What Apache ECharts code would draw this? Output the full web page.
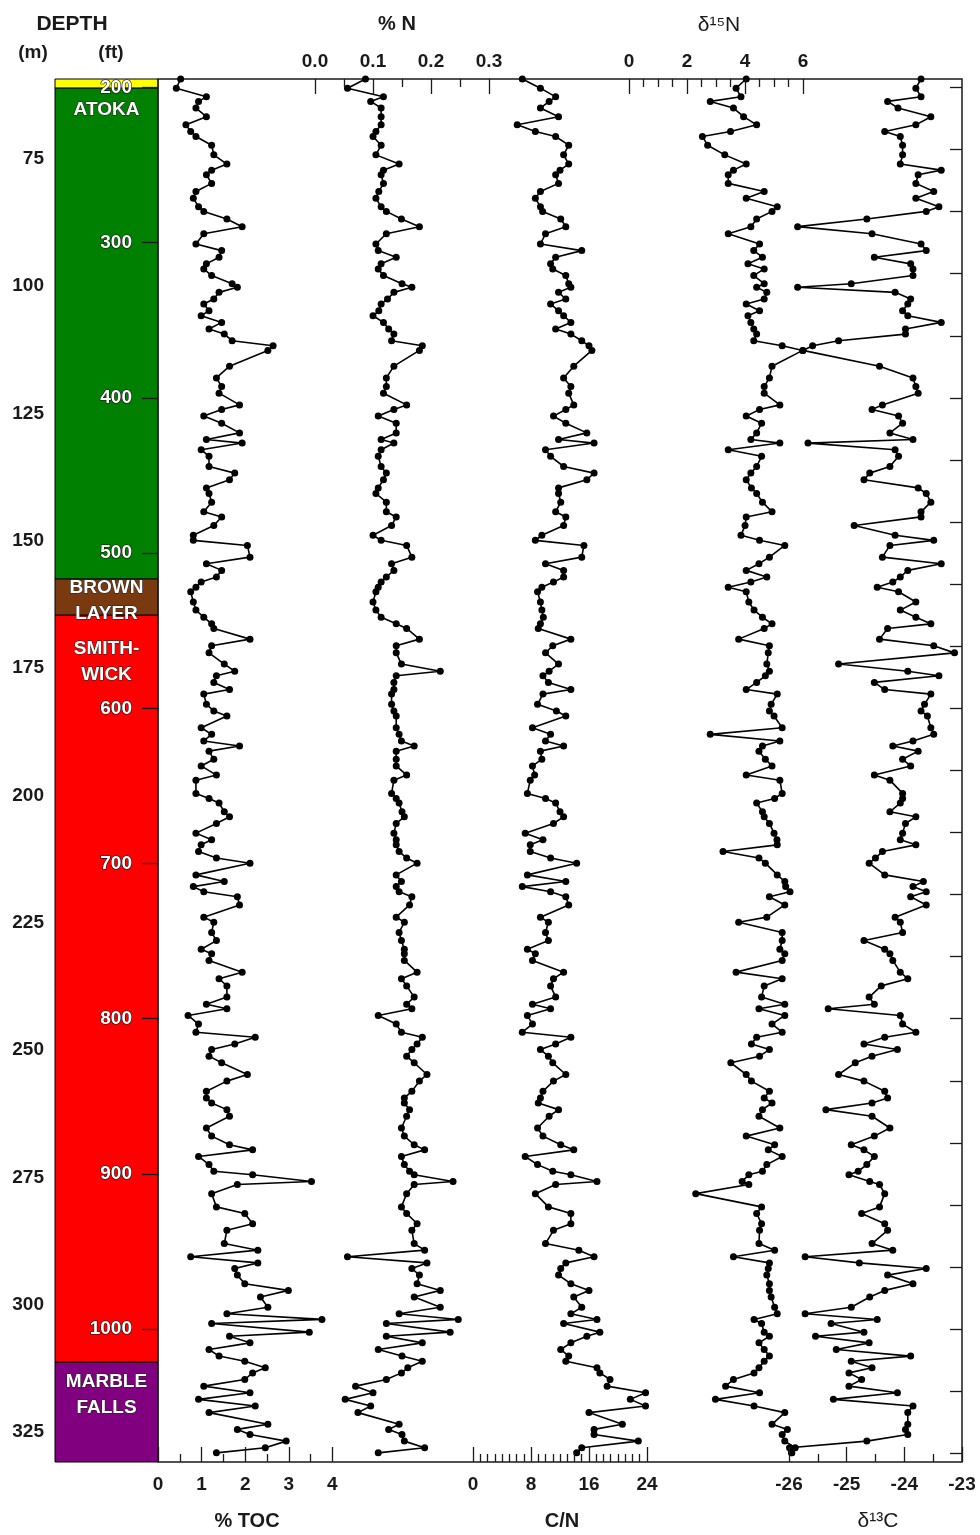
<!DOCTYPE html>
<html>
<head>
<meta charset="utf-8">
<script src="https://cdn.jsdelivr.net/npm/echarts@6/dist/echarts.min.js"></script>
<style>
  html, body { margin: 0; padding: 0; background: #fff; }
  #chart { width: 980px; height: 1535px; }
</style>
</head>
<body>
<div id="chart"></div>
<script>
// sample depths (m) shared by all five tracks
const depth = [
  59.3, 61.1, 62.8, 63.7, 65.0, 66.7, 68.3, 69.6, 70.6, 72.3, 74.2, 76.0, 77.2, 78.1, 79.8, 81.4, 82.7, 84.4, 85.3,
  86.8, 88.3, 89.7, 91.7, 93.0, 94.3, 95.6, 96.6, 97.9, 99.5, 100.2, 101.2, 102.5, 103.5, 104.8, 105.8, 107.1, 108.4, 109.4, 110.7, 111.7, 112.6,
  115.7, 118.0, 119.7, 121.0, 123.3, 124.2, 125.5, 126.9, 128.8, 130.1, 130.8, 132.1, 133.4, 135.4, 136.7, 138.0, 139.6,
  140.7, 142.4, 144.3, 145.3, 147.0, 148.9, 149.9, 150.9, 153.2, 154.5, 155.8, 157.1, 158.1, 159.1, 160.0, 162.0, 163.6, 165.0, 166.3, 167.2,
  169.3, 170.6, 172.0, 174.2, 175.6, 176.5, 177.8, 179.2, 180.1, 182.1, 183.4, 184.4, 186.7, 188.0, 189.3, 190.3, 191.3, 192.9, 194.2,
  196.0, 197.0, 199.6, 200.6, 201.5, 203.2, 204.2, 205.5, 207.4, 208.7, 209.7, 211.0, 212.3, 213.3, 215.6, 216.9, 217.9, 218.9, 219.9, 221.5,
  223.9, 224.9, 226.9, 228.5, 230.2, 231.1, 232.4, 234.7, 236.0, 237.4, 239.6, 241.0, 241.9, 243.2, 244.9, 246.5, 247.5, 248.8,
  249.9, 251.2, 252.5, 254.8, 256.1, 258.1, 259.4, 260.4, 261.7, 263.0, 265.3, 266.9, 268.6, 269.6, 270.9, 272.5, 273.8, 274.5, 275.8, 276.4,
  278.2, 280.8, 282.1, 284.1, 285.4, 288.0, 289.3, 290.6, 291.8, 292.9, 294.2, 295.9, 297.2, 298.5, 300.5, 301.8, 302.9, 303.7,
  305.4, 306.2, 307.5, 308.8, 310.1, 311.1, 312.4, 313.4, 314.7, 316.0, 317.3, 318.6, 319.9, 321.2, 323.5, 324.5, 325.5, 326.8, 328.1, 329.1
];

// % TOC
const toc = [
  0.52, 0.42, 1.11, 0.93, 0.87, 1.11, 0.64, 0.75, 0.87, 1.23, 1.28, 1.58, 1.23, 1.11, 1.23, 0.87, 0.81, 0.93, 1.05,
  1.58, 1.93, 1.05, 0.87, 1.46, 1.40, 1.11, 1.05, 1.23, 1.70, 1.82, 1.40, 1.28, 1.05, 1.17, 0.99, 1.46, 1.17, 1.52, 1.70, 2.64, 2.52,
  1.64, 1.34, 1.46, 1.40, 1.87, 1.46, 1.05, 1.46, 1.87, 1.11, 1.93, 0.99, 1.17, 1.17, 1.76, 1.64, 1.11,
  1.17, 1.23, 1.05, 1.46, 1.28, 0.81, 0.81, 2.05, 2.11, 1.11, 1.46, 1.34, 0.99, 0.87, 0.75, 0.81, 0.87, 1.05, 1.23, 1.28,
  2.11, 1.23, 1.17, 1.52, 1.76, 1.34, 1.28, 1.64, 1.05, 1.11, 1.28, 1.58, 0.99, 1.23, 1.05, 1.87, 1.17, 1.28, 0.99,
  1.34, 0.87, 0.87, 1.17, 1.40, 1.52, 1.64, 1.34, 0.87, 1.23, 0.99, 0.93, 1.34, 2.11, 0.87, 1.52, 0.81, 1.05, 1.82, 1.87,
  1.05, 1.28, 1.23, 1.34, 0.99, 1.23, 1.17, 1.93, 1.40, 1.58, 1.58, 1.11, 1.58, 0.69, 0.93, 0.87, 2.23, 1.76,
  1.23, 1.17, 1.46, 2.05, 1.58, 1.11, 1.11, 1.23, 1.58, 1.64, 1.11, 1.23, 1.64, 2.17, 0.93, 1.17, 1.28, 2.17, 3.52, 1.82,
  1.23, 1.34, 1.99, 2.17, 1.58, 1.52, 2.29, 0.75, 2.29, 1.76, 1.82, 1.99, 2.99, 2.35, 2.52, 1.58, 3.76, 1.23,
  3.47, 1.64, 2.11, 1.17, 1.40, 1.99, 2.46, 2.17, 1.99, 1.05, 2.11, 0.93, 2.23, 1.17, 2.52, 1.82, 2.11, 2.94, 2.46, 1.34
];

// % N
const nitrogen = [
  0.087, 0.056, 0.118, 0.096, 0.114, 0.114, 0.114, 0.105, 0.100, 0.114, 0.105, 0.145, 0.118, 0.114, 0.118, 0.110, 0.105, 0.114, 0.123,
  0.149, 0.180, 0.123, 0.105, 0.109, 0.140, 0.114, 0.109, 0.118, 0.150, 0.167, 0.136, 0.125, 0.114, 0.110, 0.100, 0.118, 0.127, 0.136, 0.132, 0.185, 0.180,
  0.136, 0.123, 0.123, 0.118, 0.158, 0.136, 0.109, 0.140, 0.140, 0.114, 0.136, 0.114, 0.109, 0.114, 0.123, 0.118, 0.109,
  0.105, 0.123, 0.123, 0.140, 0.132, 0.100, 0.114, 0.158, 0.167, 0.132, 0.136, 0.123, 0.114, 0.109, 0.105, 0.100, 0.105, 0.114, 0.140, 0.158,
  0.180, 0.140, 0.140, 0.149, 0.216, 0.140, 0.136, 0.136, 0.132, 0.132, 0.136, 0.140, 0.140, 0.145, 0.149, 0.171, 0.140, 0.140, 0.140,
  0.158, 0.136, 0.132, 0.140, 0.145, 0.150, 0.154, 0.140, 0.136, 0.140, 0.140, 0.145, 0.158, 0.176, 0.140, 0.149, 0.140, 0.145, 0.167, 0.163,
  0.140, 0.154, 0.145, 0.149, 0.154, 0.154, 0.154, 0.176, 0.149, 0.158, 0.171, 0.158, 0.167, 0.109, 0.140, 0.149, 0.185, 0.176,
  0.167, 0.158, 0.171, 0.193, 0.180, 0.167, 0.154, 0.154, 0.163, 0.158, 0.149, 0.154, 0.171, 0.189, 0.149, 0.154, 0.163, 0.171, 0.238, 0.171,
  0.158, 0.149, 0.158, 0.176, 0.167, 0.171, 0.189, 0.056, 0.193, 0.167, 0.180, 0.176, 0.216, 0.171, 0.216, 0.145, 0.247, 0.123,
  0.233, 0.123, 0.185, 0.109, 0.150, 0.185, 0.160, 0.149, 0.123, 0.070, 0.100, 0.052, 0.096, 0.074, 0.145, 0.127, 0.150, 0.154, 0.189, 0.109
];

// C/N
const cn = [
  6.8, 9.3, 11.4, 10.5, 9.3, 11.8, 6.1, 8.6, 11.4, 13.2, 12.5, 13.2, 12.0, 11.4, 11.8, 9.3, 8.6, 9.3, 9.6,
  12.1, 12.8, 10.0, 9.3, 15.0, 11.4, 10.7, 11.0, 12.8, 13.2, 13.5, 11.8, 12.8, 10.7, 11.8, 12.5, 13.5, 11.4, 13.5, 15.0, 16.0, 16.4,
  13.9, 12.5, 13.5, 13.2, 13.9, 12.8, 11.1, 12.8, 15.7, 11.8, 16.7, 10.0, 10.7, 12.5, 16.7, 15.7, 11.8,
  11.8, 12.1, 11.4, 12.8, 12.5, 9.5, 8.6, 15.3, 15.0, 10.0, 12.5, 12.5, 11.1, 9.5, 8.9, 9.3, 9.5, 9.7, 9.3, 9.0,
  13.5, 11.0, 10.0, 11.8, 10.5, 9.65, 10.4, 13.5, 9.65, 8.9, 11.5, 12.8, 8.2, 10.7, 10.0, 12.5, 9.3, 9.5, 8.2,
  8.5, 7.9, 7.5, 10.0, 11.4, 12.0, 12.5, 11.1, 7.2, 9.65, 7.9, 7.9, 10.7, 14.3, 7.5, 12.8, 6.8, 10.7, 12.8, 13.2,
  9.3, 10.4, 10.0, 10.4, 7.5, 8.6, 8.2, 12.5, 11.1, 10.7, 11.4, 8.2, 10.7, 7.5, 8.2, 6.8, 13.5, 11.4,
  9.3, 10.4, 11.0, 12.8, 11.1, 9.65, 9.3, 9.0, 11.8, 10.5, 8.9, 9.65, 12.1, 13.9, 7.2, 8.9, 11.0, 13.5, 17.1, 11.4,
  8.6, 10.4, 13.5, 13.5, 11.1, 10.0, 14.6, 16.7, 12.8, 12.1, 11.8, 13.5, 16.0, 13.9, 15.0, 13.5, 17.1, 12.5,
  17.5, 15.7, 13.5, 12.1, 13.2, 12.8, 17.1, 17.5, 18.9, 18.5, 23.8, 21.7, 23.8, 16.0, 20.6, 16.7, 16.7, 22.8, 15.0, 14.3
];

// delta 15N (permil)
const d15n = [
  4.04, 3.69, 3.86, 2.8, 3.6, 3.95, 4.4, 3.5, 2.53, 2.71, 3.3, 4.04, 3.6, 3.42, 3.42, 4.66, 4.04, 5.11, 4.93,
  4.4, 4.2, 3.42, 4.5, 4.3, 4.6, 4.1, 4.66, 4.3, 4.66, 4.4, 4.75, 4.66, 4.04, 4.5, 4.1, 4.2, 4.3, 4.4, 4.3, 5.28, 5.99,
  4.93, 4.84, 4.66, 4.66, 5.2, 4.5, 4.04, 4.57, 4.4, 4.2, 5.2, 3.42, 4.57, 4.4, 4.2, 4.04, 4.22,
  4.4, 4.6, 4.93, 4.04, 4.0, 3.86, 4.5, 5.37, 4.84, 4.48, 4.04, 4.75, 4.2, 3.42, 4.04, 4.13, 4.31, 4.6, 4.93, 4.66,
  3.78, 4.84, 4.8, 4.75, 4.84, 4.7, 4.4, 4.04, 5.11, 4.9, 4.84, 5.0, 5.28, 2.8, 5.2, 4.6, 4.48, 4.7, 4.93,
  4.04, 5.2, 5.28, 5.02, 4.4, 4.6, 4.66, 4.84, 5.0, 5.1, 5.11, 3.24, 4.48, 4.7, 5.11, 5.37, 5.4, 5.55, 4.84, 5.37,
  4.75, 3.78, 5.28, 5.28, 5.2, 5.37, 5.28, 3.69, 5.28, 4.66, 4.57, 5.37, 4.48, 5.37, 4.93, 5.28, 4.4, 4.22,
  4.84, 4.5, 3.51, 4.04, 4.22, 4.84, 4.66, 4.93, 4.6, 4.48, 5.2, 4.04, 5.02, 4.8, 5.28, 4.75, 4.6, 4.13, 3.9, 4.13,
  2.3, 4.57, 4.4, 4.57, 4.5, 4.48, 5.02, 3.6, 4.84, 4.8, 4.75, 4.84, 4.84, 4.9, 5.02, 5.11, 4.31, 4.57,
  4.66, 4.84, 4.48, 4.66, 4.84, 4.66, 4.48, 4.31, 3.6, 3.33, 4.5, 2.98, 4.31, 5.37, 4.93, 5.46, 5.28, 5.37, 5.73, 5.6
];

// delta 13C (permil)
const d13c = [
  -23.71, -23.80, -23.71, -24.29, -24.11, -23.54, -23.80, -24.34, -24.07, -24.03, -24.03, -24.07, -23.36, -23.76, -23.80, -23.49, -23.80, -23.40, -23.62,
  -24.65, -25.85, -24.56, -23.71, -23.62, -24.52, -23.89, -23.85, -23.85, -24.92, -25.85, -24.16, -23.89, -23.94, -24.03, -23.94, -23.36, -23.98, -23.98, -25.14, -25.59, -25.76,
  -24.43, -23.85, -23.80, -23.76, -24.38, -24.56, -24.10, -24.03, -24.25, -23.85, -25.67, -24.16, -24.10, -24.25, -24.6, -24.70, -23.76,
  -23.62, -23.54, -23.71, -23.71, -24.87, -24.16, -23.49, -24.25, -24.38, -23.36, -23.94, -24.07, -24.2, -24.47, -24.1, -23.80, -24.07, -23.80, -23.54, -24.29,
  -24.43, -23.49, -23.13, -25.14, -23.94, -23.40, -24.52, -24.34, -23.54, -23.65, -23.71, -23.6, -23.54, -23.49, -23.85, -24.20, -23.76, -24.03, -23.89,
  -24.52, -24.25, -24.03, -24.03, -24.07, -24.25, -23.80, -23.98, -24.03, -24.07, -23.80, -24.38, -24.5, -24.61, -24.34, -23.67, -23.85, -23.62, -23.89, -23.62,
  -24.16, -24.07, -24.03, -24.70, -24.34, -24.25, -24.20, -24.07, -23.94, -24.4, -24.61, -24.52, -25.32, -24.07, -24.03, -23.80, -24.34, -24.70,
  -24.12, -24.56, -24.85, -25.14, -24.7, -24.34, -24.29, -24.56, -25.36, -24.56, -24.25, -24.52, -24.92, -24.7, -24.52, -24.65, -24.8, -24.96, -24.6, -24.43,
  -24.34, -24.43, -24.74, -24.34, -24.29, -24.56, -24.20, -25.72, -24.78, -23.62, -24.29, -23.85, -24.34, -24.6, -24.92, -25.72, -24.47, -25.27,
  -24.7, -25.54, -24.61, -25.18, -23.89, -24.92, -24.56, -24.96, -24.74, -24.96, -24.12, -25.23, -23.85, -23.94, -23.94, -23.98, -23.94, -24.65, -25.99, -25.95
];

// stratigraphic column
const layerTop = [59.3, 61.1, 157.5, 164.6, 311.3];
const layerBottom = [61.1, 157.5, 164.6, 311.3, 330.9];
const layerColor = ['#ffff00', '#008000', '#7a3a10', '#ff0000', '#800080'];
const layerName = ['', 'ATOKA', 'BROWN\nLAYER', 'SMITH-\nWICK', 'MARBLE\nFALLS'];
const layerLabelDepth = [0, 65.4, 161.7, 173.8, 317.6];

// tick labels
const mTicks = [75, 100, 125, 150, 175, 200, 225, 250, 275, 300, 325];
const ftTicks = [200, 300, 400, 500, 600, 700, 800, 900, 1000];
const ftRightTicks = [];
for (let v = 200; v <= 1080; v += 40) ftRightTicks.push(v);
const tocTicks = [0, 1, 2, 3, 4];
const tocMinor = [0.5, 1.5, 2.5, 3.5];
const nTicks = [0, 0.1, 0.2, 0.3];
const nMinor = [0.05, 0.15, 0.25];
const cnTicks = [0, 8, 16, 24];
const cnMinor = [];
for (let v = 1; v < 24; v++) if (v % 8 !== 0) cnMinor.push(v);
const d15nTicks = [0, 2, 4, 6];
const d15nMinor = [0.5, 1, 1.5, 2.5, 3, 3.5, 4.5, 5, 5.5];
const d13cTicks = [-26, -25, -24, -23];
const d13cMinor = [-25.5, -24.5, -23.5];

const DEPTH_MIN = 59.3, DEPTH_MAX = 330.9, FT = 0.3048;
const FONT = 'Liberation Sans, Arial, sans-serif';
const INK = '#1a1a1a';

const chart = echarts.init(document.getElementById('chart'), null, { renderer: 'canvas' });

const labelStyle = { color: INK, fontWeight: 'bold', fontSize: 19, fontFamily: FONT };
const tickLine = { color: INK, width: 1.3 };
const noLine = { show: false, onZero: false };
const plain = v => String(v);

function trackAxes(min, max, pos, major, minor, fmt) {
  const base = {
    gridIndex: 0, type: 'value', min: min, max: max, position: pos,
    axisLine: noLine, splitLine: { show: false }, z: 6
  };
  return [
    Object.assign({}, base, {
      axisTick: { show: true, inside: true, length: 15, customValues: major, lineStyle: tickLine },
      axisLabel: Object.assign({ show: true, customValues: major, formatter: fmt, margin: pos === 'top' ? 8 : 13 }, labelStyle)
    }),
    Object.assign({}, base, {
      axisTick: { show: true, inside: true, length: 8, customValues: minor, lineStyle: tickLine },
      axisLabel: { show: false }
    })
  ];
}

const xAxes = [].concat(
  trackAxes(0, 18.44, 'bottom', tocTicks, tocMinor, plain),                         // 0,1
  trackAxes(-0.2707, 1.1155, 'top', nTicks, nMinor, v => v.toFixed(1)),             // 2,3
  trackAxes(-43.45, 67.45, 'bottom', cnTicks, cnMinor, plain),                     // 4,5
  trackAxes(-16.24, 11.48, 'top', d15nTicks, d15nMinor, plain),                    // 6,7
  trackAxes(-36.94, -23.0, 'bottom', d13cTicks, d13cMinor, plain),                 // 8,9
  [{ gridIndex: 1, type: 'value', min: 0, max: 1, show: false, axisLine: noLine }]  // 10
);

const yAxes = [
  // 0: depth (m) for data
  { gridIndex: 0, type: 'value', position: 'left', min: DEPTH_MIN, max: DEPTH_MAX, inverse: true, show: false, axisLine: noLine },
  // 1: feet on the left edge of the plot, labels sit inside the column
  {
    gridIndex: 0, type: 'value', position: 'left', min: DEPTH_MIN / FT, max: DEPTH_MAX / FT, inverse: true,
    axisLine: noLine, splitLine: { show: false }, z: 10,
    axisTick: { show: true, inside: false, length: 16, customValues: ftTicks, lineStyle: tickLine },
    axisLabel: Object.assign({ customValues: ftTicks, margin: 26, formatter: plain }, labelStyle,
      { color: '#ffffff', textBorderColor: '#111', textBorderWidth: 1.2 })
  },
  // 2: feet ticks on the right edge
  {
    gridIndex: 0, type: 'value', position: 'right', min: DEPTH_MIN / FT, max: DEPTH_MAX / FT, inverse: true,
    axisLine: noLine, splitLine: { show: false }, z: 6,
    axisTick: { show: true, inside: true, length: 12, customValues: ftRightTicks, lineStyle: tickLine },
    axisLabel: { show: false }
  },
  // 3: metres on the left of the column
  {
    gridIndex: 1, type: 'value', position: 'left', min: DEPTH_MIN, max: DEPTH_MAX, inverse: true,
    axisLine: noLine, splitLine: { show: false }, z: 10,
    axisTick: { show: false },
    axisLabel: Object.assign({ customValues: mTicks, margin: 11, formatter: plain }, labelStyle)
  }
];

function track(name, values, xIndex) {
  return {
    name: name, type: 'line', xAxisIndex: xIndex, yAxisIndex: 0,
    data: depth.map((d, i) => [values[i], d]),
    symbol: 'circle', symbolSize: 7, clip: false,
    itemStyle: { color: '#000' },
    lineStyle: { color: '#000', width: 1.6 },
    z: 5
  };
}

const columnSeries = {
  type: 'custom', xAxisIndex: 10, yAxisIndex: 3, clip: false, z: 2,
  data: layerTop.map((t, i) => [t, layerBottom[i]]),
  renderItem: function (params, api) {
    const i = params.dataIndex;
    const p0 = api.coord([0, api.value(0)]);
    const p1 = api.coord([1, api.value(1)]);
    const children = [{
      type: 'rect',
      shape: { x: p0[0], y: p0[1], width: p1[0] - p0[0], height: p1[1] - p0[1] },
      style: { fill: layerColor[i], stroke: '#000', lineWidth: 1 }
    }];
    if (layerName[i]) {
      const c = api.coord([0.5, layerLabelDepth[i]]);
      children.push({
        type: 'text', x: c[0], y: c[1], z2: 10,
        style: {
          text: layerName[i], fill: '#fff', font: 'bold 19px ' + FONT,
          align: 'center', verticalAlign: 'middle', lineHeight: 26,
          stroke: '#222', lineWidth: 1
        }
      });
    }
    return { type: 'group', children: children };
  }
};

function title(text, x, y, bold, size) {
  return {
    type: 'text', x: x, y: y, z: 20,
    style: {
      text: text, fill: INK, align: 'center', verticalAlign: 'middle',
      font: (bold ? 'bold ' : '') + size + 'px ' + FONT
    }
  };
}

chart.setOption({
  animation: false,
  backgroundColor: '#fff',
  grid: [
    { left: 158, right: 18, top: 79, bottom: 73, show: true, borderColor: INK, borderWidth: 1.5, backgroundColor: 'transparent', z: 4 },
    { left: 55, width: 103, top: 79, bottom: 73 }
  ],
  xAxis: xAxes,
  yAxis: yAxes,
  graphic: [
    title('DEPTH', 72, 24, true, 21),
    title('(m)', 33, 53, true, 19),
    title('(ft)', 111, 53, true, 19),
    title('% N', 397, 24, true, 20),
    title('δ\u00B9\u2075N', 719, 25, false, 21),
    title('% TOC', 247, 1521, true, 20),
    title('C/N', 562, 1521, true, 20),
    title('δ\u00B9\u00B3C', 878, 1521, false, 21)
  ],
  series: [
    columnSeries,
    track('% TOC', toc, 0),
    track('% N', nitrogen, 2),
    track('C/N', cn, 4),
    track('δ15N', d15n, 6),
    track('δ13C', d13c, 8)
  ]
});
</script>
</body>
</html>
